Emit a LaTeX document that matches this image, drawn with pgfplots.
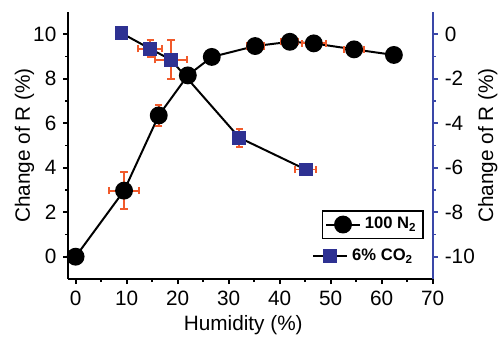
\documentclass[border=0pt]{standalone}
\usepackage{pgfplots}
\pgfplotsset{compat=1.18}
\usepackage{fontspec}
\setmainfont{Liberation Sans}
\definecolor{errc}{HTML}{F15A2B}
\definecolor{sqblue}{HTML}{2E3192}
\definecolor{axblue}{HTML}{3A47A8}
\begin{document}
\begin{tikzpicture}
\pgfplotsset{
  every axis/.append style={
    scale only axis, width=183.5bp, height=134.5bp,
    xmin=-1.4, xmax=70,
    /pgf/number format/assume math mode=true,
    tick label style={font=\fontsize{10.5}{12}\selectfont},
    label style={font=\fontsize{10.5}{12}\selectfont},
    tick align=outside,
    major tick length=2.6bp, minor tick length=1.6bp,
    axis line style={line width=1bp},
    every tick/.style={line width=0.9bp},
  }
}
\begin{axis}[
  axis x line*=bottom, axis y line*=left,
  ymin=-1, ymax=11,
  xtick={0,10,...,70}, minor x tick num=1,
  ytick={0,2,...,10}, minor y tick num=1,
  xlabel={Humidity (\%)}, ylabel={Change of R (\%)},
  xlabel style={at={(axis description cs:0.48,0)}, anchor=base, yshift=-26bp},
  ylabel style={at={(axis description cs:-0.106,0.5)}, anchor=base},
  legend style={at={(0.975,0.257)}, anchor=north east, draw=black, line width=0.6bp,
    font=\fontsize{8.4}{10}\selectfont\bfseries, inner sep=1.2bp, row sep=0pt},
  legend cell align=left,
  clip=false,
]
\path (rel axis cs:-0.188,-0.219) (rel axis cs:1.185,1.045);
\addplot[black, line width=1bp, mark=*, mark size=4bp,
  error bars/.cd, x dir=both, y dir=both, x explicit, y explicit,
  error bar style={errc, line width=1bp},
  error mark options={rotate=90, errc, line width=1bp, mark size=1.8bp}]
  table[x=x, y=y, x error=ex, y error=ey] {
x y ex ey
0 0 0 0.15
9.5 2.97 3.0 0.82
16.3 6.35 0.3 0.47
22.0 8.15 0 0
26.7 8.98 0 0
35.2 9.47 1.65 0
42.0 9.66 1.65 0
46.7 9.59 2.3 0
54.6 9.32 2.0 0
62.4 9.07 0 0
};
\addlegendentry{100 N\textsubscript{2}}
\end{axis}
\begin{axis}[
  axis x line=none, axis y line*=right,
  ymin=-11, ymax=1,
  ytick={-10,-8,...,0}, minor y tick num=1,
  y axis line style={axblue}, ytick style={axblue},
  ylabel={Change of R (\%)},
  ylabel style={at={(axis description cs:1.166,0.5)}, anchor=base},
  legend style={at={(0.965,0.0855)}, anchor=east, draw=none, fill=none,
    font=\fontsize{8.4}{10}\selectfont\bfseries, inner sep=1.2bp},
]
\addplot[black, line width=1bp, mark=square*, mark size=3bp, mark options={sqblue, fill=sqblue},
  error bars/.cd, x dir=both, y dir=both, x explicit, y explicit,
  error bar style={errc, line width=1bp},
  error mark options={rotate=90, errc, line width=1bp, mark size=1.8bp}]
  table[x=x, y=y, x error=ex, y error=ey] {
x y ex ey
9.0 0.05 0 0.12
14.6 -0.65 2.3 0.38
18.7 -1.15 3.1 0.88
32.1 -4.65 0.5 0.4
45.1 -6.08 2.1 0.1
};
\addlegendentry{6\% CO\textsubscript{2}}
\end{axis}
\end{tikzpicture}
\end{document}
